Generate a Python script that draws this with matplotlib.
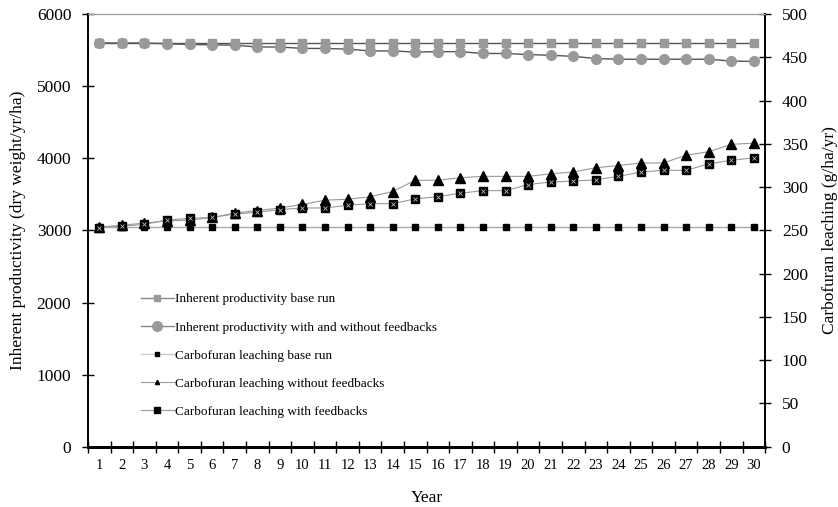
import matplotlib.pyplot as plt
from matplotlib.lines import Line2D

# Datos
anios = list(range(1, 31))
prod_base = [5600, 5600, 5600, 5600, 5600, 5600, 5600, 5600, 5600, 5600,
             5600, 5600, 5600, 5600, 5600, 5600, 5600, 5600, 5600, 5600,
             5600, 5600, 5600, 5600, 5600, 5600, 5600, 5600, 5600, 5600]
prod_feedback = [5600, 5600, 5600, 5590, 5580, 5575, 5570, 5545, 5545, 5525,
                 5525, 5515, 5490, 5490, 5475, 5480, 5480, 5455, 5455, 5440,
                 5430, 5415, 5385, 5375, 5375, 5375, 5375, 5375, 5350, 5345]
lix_base = [254, 254, 254, 254, 254, 254, 254, 254, 254, 254,
            254, 254, 254, 254, 254, 254, 254, 254, 254, 254,
            254, 254, 254, 254, 254, 254, 254, 254, 254, 254]
lix_sin_fb = [254, 256, 258.5, 261, 262, 265, 270, 273, 276, 280,
              285, 286, 289, 295, 308, 308, 311, 312.5, 312.5, 312.5,
              315.5, 317.5, 322.5, 325, 328, 328, 337, 341, 349.5, 351]
lix_con_fb = [253, 255, 257, 262, 264, 265, 269, 271, 274, 276,
              276, 279, 281, 281, 286.5, 289, 293, 296, 296, 303,
              306, 307, 308.5, 312.5, 317.5, 319.5, 319.5, 327, 331, 334]

etiquetas = ['Inherent productivity base run',
             'Inherent productivity with and without feedbacks',
             'Carbofuran leaching base run',
             'Carbofuran leaching without feedbacks',
             'Carbofuran leaching with feedbacks']

plt.rcParams['font.family'] = ['Liberation Serif', 'DejaVu Serif']

fig = plt.figure(figsize=(8.38, 5.07), dpi=100)
ax = fig.add_axes([0.105, 0.119, 0.808, 0.853])
ax2 = ax.twinx()

gris = '#999999'
# Productividad (eje izquierdo)
ax.plot(anios, prod_base, color='#555555', lw=1.0, marker='s', ms=6,
        mfc=gris, mec=gris, zorder=3)
ax.plot(anios, prod_feedback, color='#555555', lw=1.0, marker='o', ms=7,
        mfc=gris, mec=gris, zorder=3)

# Lixiviacion (eje derecho)
ax2.plot(anios, lix_base, color='#aaaaaa', lw=1.0, marker='s', ms=4.5,
         mfc='black', mec='black')
ax2.plot(anios, lix_sin_fb, color='#999999', lw=0.8, marker='^', ms=6.5,
         mfc='black', mec='black')
ax2.plot(anios, lix_con_fb, color='#999999', lw=0.8, marker='s', ms=5.5,
         mfc='black', mec='black')
ax2.plot(anios, lix_con_fb, ls='none', marker='x', ms=3.5, mew=0.6,
         color='#bbbbbb')

ax.set_xlim(0.5, 30.5)
ax.set_ylim(0, 6000)
ax2.set_ylim(0, 500)
ax.set_yticks(range(0, 6001, 1000))
ax2.set_yticks(range(0, 501, 50))

# ticks entre categorias, etiquetas en el centro
ax.set_xticks([x + 0.5 for x in range(0, 31)])
ax.set_xticklabels([])
ax.set_xticks(anios, minor=True)
ax.set_xticklabels([str(a) for a in anios], minor=True, fontsize=10.5)
ax.tick_params(axis='x', which='minor', length=0, pad=9)
ax.tick_params(axis='x', which='major', direction='inout', length=8, width=1)
ax.tick_params(axis='y', direction='inout', length=8, width=1, labelsize=12.5, pad=8)
ax2.tick_params(axis='y', direction='inout', length=8, width=1, labelsize=12.5, pad=8)

for a in (ax, ax2):
    a.spines['top'].set_color(gris)
    a.spines['bottom'].set_linewidth(2)
    a.spines['left'].set_linewidth(1.2)
    a.spines['right'].set_linewidth(1.2)

ax.set_xlabel('Year', fontsize=12.5, labelpad=13)
ax.set_ylabel('Inherent productivity (dry weight/yr/ha)', fontsize=12.5, labelpad=8)
ax2.set_ylabel('Carbofuran leaching (g/ha/yr)', fontsize=12.5, labelpad=10)

handles = [
    Line2D([], [], color='#888888', lw=1.0, marker='s', ms=4, mfc=gris, mec=gris),
    Line2D([], [], color='#888888', lw=1.0, marker='o', ms=7, mfc=gris, mec=gris),
    Line2D([], [], color='#cccccc', lw=1.0, marker='s', ms=3, mfc='black', mec='black'),
    Line2D([], [], color='#999999', lw=0.8, marker='^', ms=3, mfc='black', mec='black'),
    Line2D([], [], color='#999999', lw=0.8, marker='s', ms=5, mfc='black', mec='black'),
]
ax2.legend(handles, etiquetas, loc='upper left', bbox_to_anchor=(0.068, 0.37),
           frameon=False, fontsize=9.5, handlelength=2.5, handletextpad=0.1,
           labelspacing=1.2, borderpad=0)

fig.savefig('out.png', dpi=100)
